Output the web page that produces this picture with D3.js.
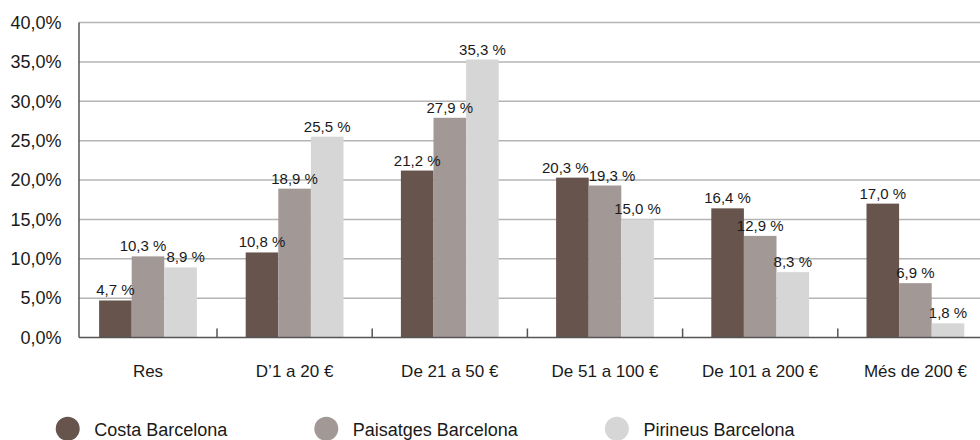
<!DOCTYPE html>
<html>
<head>
<meta charset="utf-8">
<script src="https://cdn.jsdelivr.net/npm/d3@7/dist/d3.min.js"></script>
<style>
  html, body { margin: 0; padding: 0; background: #fff; }
  svg { display: block; }
  text { font-family: "Liberation Sans", Arial, Helvetica, sans-serif; fill: #1a1a1a; }
</style>
</head>
<body>
<svg id="chart" width="980" height="440"></svg>
<script>
const categories = ["Res", "D\u20191 a 20 \u20ac", "De 21 a 50 \u20ac", "De 51 a 100 \u20ac", "De 101 a 200 \u20ac", "M\u00e9s de 200 \u20ac"];
const seriesNames = ["Costa Barcelona", "Paisatges Barcelona", "Pirineus Barcelona"];
const costa = [4.7, 10.8, 21.2, 20.3, 16.4, 17.0];
const paisatges = [10.3, 18.9, 27.9, 19.3, 12.9, 6.9];
const pirineus = [8.9, 25.5, 35.3, 15.0, 8.3, 1.8];
const yTicks = [0, 5, 10, 15, 20, 25, 30, 35, 40];
const colors = ["#66544d", "#a29896", "#d6d6d6"];

(function () {
const series = [costa, paisatges, pirineus];
const svg = d3.select("#chart");

const axisX = 79, plotRight = 980, plotTop = 22.5, plotBottom = 337.5;
const x = d3.scaleBand().domain(categories).range([61.8, 993]).padding(0);
const y = d3.scaleLinear().domain([0, 40]).range([plotBottom, plotTop]);
const fmt = v => d3.format(".1f")(v).replace(".", ",");

// gridlines
svg.append("g").selectAll("line").data(yTicks.filter(t => t > 0)).join("line")
  .attr("x1", axisX).attr("x2", plotRight)
  .attr("y1", d => y(d)).attr("y2", d => y(d))
  .attr("stroke", "#b4b4b4").attr("stroke-width", 1.5);

// y labels
svg.append("g").selectAll("text").data(yTicks).join("text")
  .attr("x", 61.5).attr("y", d => y(d) + 6.3)
  .attr("text-anchor", "end").attr("font-size", 18)
  .text(d => fmt(d) + "%");

// band helpers (first band clipped by the vertical axis)
const bandStart = c => Math.max(x(c), axisX);
const bandEnd = c => x(c) + x.bandwidth();
const bandCenter = c => (bandStart(c) + bandEnd(c)) / 2;
const barW = 32.6;
const inner = d3.scaleBand().domain(d3.range(series.length)).range([0, barW * series.length]);

const groups = svg.append("g").selectAll("g").data(categories).join("g")
  .attr("transform", c => `translate(${bandCenter(c) - barW * series.length / 2},0)`);

groups.each(function (c, ci) {
  const g = d3.select(this);
  series.forEach((s, si) => {
    g.append("rect")
      .attr("x", inner(si)).attr("width", inner.bandwidth())
      .attr("y", y(s[ci])).attr("height", plotBottom - y(s[ci]))
      .attr("fill", colors[si]);
  });
  const labels = series.map((s, si) => {
    const t = g.append("text")
      .attr("x", inner(si) + inner.bandwidth() / 2)
      .attr("y", y(s[ci]) - 5)
      .attr("text-anchor", "middle").attr("font-size", 15)
      .text(fmt(s[ci]) + " %");
    return { t, cx: inner(si) + inner.bandwidth() / 2, y: y(s[ci]) - 5, w: t.node().getComputedTextLength() };
  });
  // push apart neighbouring labels that collide
  for (let i = 0; i < labels.length - 1; i++) {
    const a = labels[i], b = labels[i + 1];
    if (Math.abs(a.y - b.y) < 14) {
      const overlap = (a.cx + a.w / 2) - (b.cx - b.w / 2);
      if (overlap > 0) { a.cx -= overlap / 2; b.cx += overlap / 2; }
    }
  }
  labels.forEach(l => l.t.attr("x", l.cx));
});

// axes lines
svg.append("line").attr("x1", axisX).attr("x2", axisX).attr("y1", plotTop).attr("y2", plotBottom)
  .attr("stroke", "#555").attr("stroke-width", 1.5);
svg.append("line").attr("x1", axisX).attr("x2", plotRight).attr("y1", plotBottom).attr("y2", plotBottom)
  .attr("stroke", "#555").attr("stroke-width", 1.5);

// x ticks (between categories, pointing up)
svg.append("g").selectAll("line").data(categories.slice(1)).join("line")
  .attr("x1", c => x(c)).attr("x2", c => x(c))
  .attr("y1", plotBottom - 9).attr("y2", plotBottom)
  .attr("stroke", "#555").attr("stroke-width", 1.5);

// category labels
svg.append("g").selectAll("text").data(categories).join("text")
  .attr("x", c => bandCenter(c)).attr("y", 376.7)
  .attr("text-anchor", "middle").attr("font-size", 17)
  .text(c => c);

// legend
const legend = svg.append("g");
let lx = 67.7;
seriesNames.forEach((name, i) => {
  legend.append("circle").attr("cx", lx).attr("cy", 428.7).attr("r", 12).attr("fill", colors[i]);
  const t = legend.append("text").attr("x", lx + 26.5).attr("y", 436)
    .attr("font-size", 18).text(name);
  const w = t.node().getComputedTextLength();
  lx = lx + 26.5 + w + 99;
});
})();
</script>
</body>
</html>
